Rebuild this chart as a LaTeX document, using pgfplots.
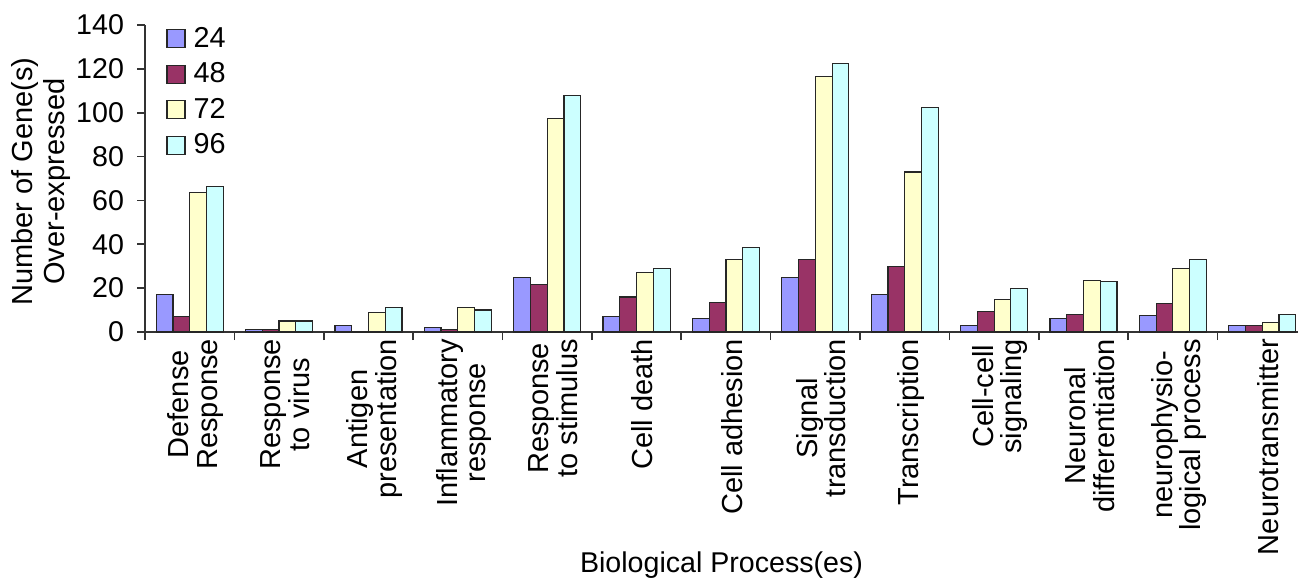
\documentclass[border=0pt]{standalone}
\usepackage{fontspec}
\setmainfont{Liberation Sans}
\usepackage{pgfplots}
\pgfplotsset{compat=1.18}
\definecolor{c24}{HTML}{9999FF}
\definecolor{c48}{HTML}{993366}
\definecolor{c72}{HTML}{FFFFCC}
\definecolor{c96}{HTML}{CCFFFF}
\pgfplotsset{mylegend/.style={legend image code/.code={\draw[##1, draw=black!85, line width=0.6pt] (0pt,-4.5pt) rectangle (9pt,4.5pt);}}}
\begin{document}
\begin{tikzpicture}
\begin{axis}[
 name=ax,
 scale only axis,
 width=576.5pt, height=153.5pt,
 xmin=-0.5, xmax=12.4, ymin=0, ymax=140,
 axis x line*=bottom, axis y line*=left,
 axis line style={line width=0.8pt, draw=black!80},
 ybar=0pt, bar width=0.1875,
 ytick={0,20,...,140},
 xtick={-0.5,0.5,...,11.5}, xticklabels={},
 extra x ticks={0,1,2,3,4,5,6,7,8,9,10,11,12},
 extra x tick labels={{Defense\\Response},{Response\\to virus},{Antigen\\presentation},{Inflammatory\\response},{Response\\to stimulus},{Cell death},{Cell adhesion},{Signal\\transduction},{Transcription},{Cell-cell\\signaling},{Neuronal\\differentiation},{neurophysio-\\logical process},{Neurotransmitter}},
 extra x tick style={major tick length=0pt},
 tick align=outside, major tick length=4pt,
 tick style={line width=0.8pt, draw=black!80},
 x tick label style={rotate=90, anchor=east, align=center, font=\fontsize{14.5}{14.2}\selectfont, yshift=-3pt},
 y tick label style={font=\fontsize{14.3}{16}\selectfont, xshift=-3pt},
 /pgf/number format/assume math mode=true,
 ylabel={Number of Gene(s)\\Over-expressed},
 ylabel style={align=center, font=\fontsize{14.5}{16}\selectfont, at={(axis description cs:-0.09,0.49)}, anchor=center},
 xlabel={Biological Process(es)},
 xlabel style={at={(axis description cs:0.5,-0.76)}, anchor=center, font=\fontsize{14.3}{16}\selectfont},
 legend style={at={(axis description cs:0.013,1.02)}, anchor=north west, draw=none, fill=none, font=\fontsize{14.4}{16}\selectfont, row sep=2.2pt, legend cell align=left, nodes={inner xsep=4pt}},
 every axis plot/.append style={draw=black!85, line width=0.6pt},
]
\addplot[fill=c24, mylegend] coordinates {(0,17) (1,1) (2,3) (3,2) (4,25) (5,7) (6,6) (7,25) (8,17) (9,3) (10,6) (11,7.5) (12,3)};
\addplot[fill=c48, mylegend] coordinates {(0,7) (1,1) (2,0) (3,1) (4,21.5) (5,16) (6,13.5) (7,33) (8,30) (9,9.5) (10,8) (11,13) (12,3)};
\addplot[fill=c72, mylegend] coordinates {(0,63.5) (1,5) (2,9) (3,11) (4,97.5) (5,27) (6,33) (7,116.5) (8,73) (9,15) (10,23.5) (11,29) (12,4.5)};
\addplot[fill=c96, mylegend] coordinates {(0,66.5) (1,5) (2,11) (3,10) (4,108) (5,29) (6,38.5) (7,122.5) (8,102.5) (9,20) (10,23) (11,33) (12,8)};
\legend{24,48,72,96}
\end{axis}
\pgfresetboundingbox
\path[use as bounding box] ([shift={(-72.5pt,-123pt)}]ax.south west) rectangle ([shift={(1.5pt,12.5pt)}]ax.north east);
\end{tikzpicture}
\end{document}
